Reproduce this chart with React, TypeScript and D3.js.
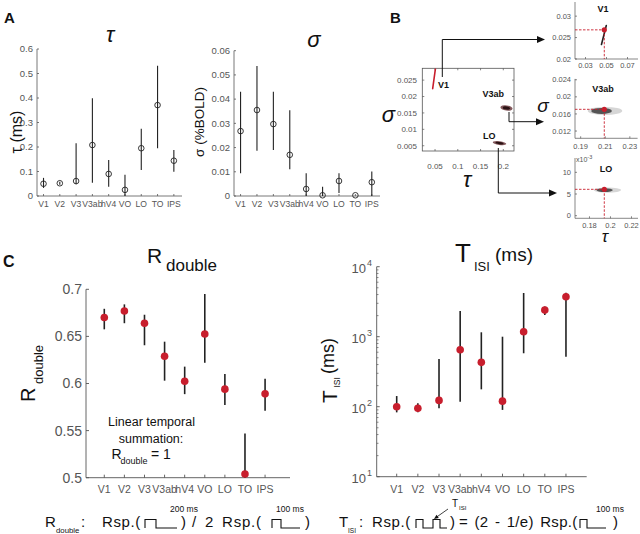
import React from 'react';
import * as d3 from 'd3';

// ---------- DATA ----------
const regions = ['V1', 'V2', 'V3', 'V3ab', 'hV4', 'VO', 'LO', 'TO', 'IPS'];

// Panel A: tau
const tauMean = [0.05, 0.052, 0.061, 0.208, 0.09, 0.025, 0.195, 0.371, 0.144];
const tauLo = [0.033, 0.046, 0.048, 0.054, 0.038, 0.0, 0.106, 0.195, 0.099];
const tauHi = [0.074, 0.058, 0.215, 0.399, 0.147, 0.087, 0.275, 0.532, 0.188];
const tauTicks = [0, 0.1, 0.2, 0.3, 0.4, 0.5, 0.6];

// Panel A: sigma
const sigmaMean = [0.0268, 0.0355, 0.0297, 0.017, 0.0029, 0.0003, 0.0062, 0.0003, 0.0057];
const sigmaLo = [0.0094, 0.0187, 0.019, 0.011, 0.0, 0.0, 0.0012, 0.0003, 0.0];
const sigmaHi = [0.043, 0.0537, 0.043, 0.0354, 0.0094, 0.0038, 0.0094, 0.0003, 0.0101];
const sigmaTicks = [0, 0.01, 0.02, 0.03, 0.04, 0.05, 0.06];

// Panel B main scatter
const bTauTicks = [0.05, 0.1, 0.15, 0.2];
const bSigmaTicks = [0.005, 0.01, 0.015, 0.02, 0.025];
const v1Streak = [[0.0448, 0.0224], [0.0508, 0.0284]];
const cloudNames = ['V3ab', 'LO'];
const cloudTau = [0.207, 0.1917];
const cloudSigma = [0.0165, 0.0058];
const cloudRTau = [0.0135, 0.015];
const cloudRSigma = [0.0008, 0.00055];

// Panel B insets
const insetNames = ['V1', 'V3ab', 'LO'];
const insetBestTau = [0.0479, 0.2092, 0.1941];
const insetBestSigma = [0.0268, 0.01708, 0.00608];
const insetTauTicks = [[0.03, 0.05, 0.07], [0.19, 0.21, 0.23], [0.18, 0.2, 0.22]];
const insetSigmaTicks = [[0.02, 0.025, 0.03], [0.012, 0.016, 0.02, 0.024], [0, 0.005, 0.01]];
const insetTickLabelsTau = [['0.03', '0.05', '0.07'], ['0.19', '0.21', '0.23'], ['0.18', '0.2', '0.22']];
const insetTickLabelsSigma = [['0.02', '0.025', '0.03'], ['0.012', '0.016', '0.02', '0.024'], ['0', '5', '10']];
const v1InsetStreak = [[0.0452, 0.0234], [0.0498, 0.0278]];
const insetCloudTau = [0, 0.2098, 0.197];
const insetCloudSigma = [0, 0.0167, 0.0059];
const insetCloudRTau = [0, 0.014, 0.013];
const insetCloudRSigma = [0, 0.00095, 0.0006];

// Panel C: R_double
const rMean = [0.67, 0.677, 0.664, 0.629, 0.6024, 0.6525, 0.594, 0.504, 0.589];
const rLo = [0.6575, 0.664, 0.6406, 0.603, 0.5887, 0.622, 0.5773, 0.49, 0.571];
const rHi = [0.6793, 0.684, 0.673, 0.6444, 0.6179, 0.695, 0.61, 0.547, 0.605];
const rTicks = [0.5, 0.55, 0.6, 0.65, 0.7];

// Panel C: T_ISI (ms)
const tMean = [100, 95, 123, 651, 430, 120, 1179, 2400, 3730];
const tLo = [83, 83, 95, 118, 177, 90, 580, 2040, 518];
const tHi = [142, 112, 480, 2330, 1156, 1000, 4210, 2700, 4250];
const tTicks = [10, 100, 1000, 10000];

// ---------- STYLE ----------
const font = "'Liberation Sans', Arial, Helvetica, sans-serif";
const axisC = '#555';
const labC = '#555';
const red = '#c81e2d';
const dark = '#222';

function DotPanel({ x0, x1, yTop, yMax, ticks, fmt, mean, lo, hi }: any) {
  const x = d3.scaleLinear().domain([0.6, 9.5]).range([x0, x1]);
  const y = d3.scaleLinear().domain([0, yMax]).range([196, yTop]);
  return (
    <g>
      <line x1={x0} y1={196} x2={x0} y2={yTop} stroke={axisC} strokeWidth={0.8} />
      <line x1={x0} y1={196} x2={x1} y2={196} stroke={axisC} strokeWidth={0.8} />
      {ticks.map((t: number) => (
        <g key={t}>
          <line x1={x0} x2={x0 + 2} y1={y(t)} y2={y(t)} stroke={axisC} strokeWidth={0.8} />
          <text x={x0 - 4} y={y(t)} dy="0.35em" textAnchor="end" fontSize={9.5} fill={labC}>{fmt(t)}</text>
        </g>
      ))}
      {regions.map((r, i) => (
        <g key={r}>
          <line x1={x(i + 1)} x2={x(i + 1)} y1={196} y2={194} stroke={axisC} strokeWidth={0.8} />
          <text x={x(i + 1)} y={207} textAnchor="middle" fontSize={8.6} fill={labC}>{r}</text>
        </g>
      ))}
      {regions.map((r, i) => (
        <line key={'e' + r} x1={x(i + 1)} x2={x(i + 1)} y1={y(lo[i])} y2={y(hi[i])} stroke={dark} strokeWidth={1.1} />
      ))}
      {regions.map((r, i) => (
        <circle key={'c' + r} cx={x(i + 1)} cy={y(mean[i])} r={2.8} fill="none" stroke={dark} strokeWidth={0.9} />
      ))}
    </g>
  );
}

function Arrow({ d, tip }: any) {
  const [tx, ty] = tip;
  const head = `M${tx},${ty} L${tx - 8},${ty - 3.5} L${tx - 8},${ty + 3.5} Z`;
  return (
    <g>
      <path d={d} fill="none" stroke="#111" strokeWidth={1} />
      <path d={head} fill="#111" />
    </g>
  );
}

const insetLayout = [
  { xd: [0.02, 0.08], xr: [575, 638], yd: [0.02, 0.0333], yr: [59, 2], xlabY: 68, titleY: 12, titleX: 603 },
  { xd: [0.1854, 0.2363], xr: [575, 637.6], yd: [0.0103, 0.0242], yr: [138.3, 78.9], xlabY: 148.5, titleY: 92, titleX: 603 },
  { xd: [0.1662, 0.2262], xr: [575, 638], yd: [-0.0006, 0.0133], yr: [218.3, 158], xlabY: 228, titleY: 172, titleX: 606 },
];

function Inset({ k }: any) {
  const L = insetLayout[k];
  const x = d3.scaleLinear().domain(L.xd).range(L.xr);
  const y = d3.scaleLinear().domain(L.yd).range(L.yr);
  const x0 = L.xr[0], y0 = L.yr[0];
  const bt = insetBestTau[k], bs = insetBestSigma[k];
  return (
    <g>
      <line x1={x0} y1={y0} x2={x0} y2={L.yr[1]} stroke={axisC} strokeWidth={0.7} />
      <line x1={x0} y1={y0} x2={L.xr[1]} y2={y0} stroke={axisC} strokeWidth={0.7} />
      {insetTauTicks[k].map((t, i) => (
        <g key={'xt' + i}>
          <line x1={x(t)} x2={x(t)} y1={y0} y2={y0 - 2} stroke={axisC} strokeWidth={0.7} />
          <text x={x(t)} y={L.xlabY} textAnchor="middle" fontSize={7.5} fill={labC}>{insetTickLabelsTau[k][i]}</text>
        </g>
      ))}
      {insetSigmaTicks[k].map((t, i) => (
        <g key={'yt' + i}>
          <line x1={x0} x2={x0 + 2} y1={y(t)} y2={y(t)} stroke={axisC} strokeWidth={0.7} />
          <text x={x0 - 4} y={y(t)} dy="0.35em" textAnchor="end" fontSize={7.5} fill={labC}>{insetTickLabelsSigma[k][i]}</text>
        </g>
      ))}
      {k === 0 ? (
        <line x1={x(v1InsetStreak[0][0])} y1={y(v1InsetStreak[0][1])} x2={x(v1InsetStreak[1][0])} y2={y(v1InsetStreak[1][1])} stroke="#222" strokeWidth={1.6} strokeLinecap="round" />
      ) : (
        <g>
          <ellipse cx={x(insetCloudTau[k])} cy={y(insetCloudSigma[k])} rx={x(insetCloudTau[k] + insetCloudRTau[k]) - x(insetCloudTau[k])} ry={y(insetCloudSigma[k]) - y(insetCloudSigma[k] + insetCloudRSigma[k])} fill="#999" opacity={0.4} />
          <ellipse cx={x(insetCloudTau[k] - insetCloudRTau[k] * 0.2)} cy={y(insetCloudSigma[k])} rx={(x(insetCloudTau[k] + insetCloudRTau[k]) - x(insetCloudTau[k])) * 0.6} ry={(y(insetCloudSigma[k]) - y(insetCloudSigma[k] + insetCloudRSigma[k])) * 0.75} fill="#333" opacity={0.8} />
        </g>
      )}
      <line x1={x0} x2={x(bt)} y1={y(bs)} y2={y(bs)} stroke={red} strokeWidth={0.9} strokeDasharray="2.5,1.5" />
      <line x1={x(bt)} x2={x(bt)} y1={y(bs)} y2={y0} stroke={red} strokeWidth={0.9} strokeDasharray="2.5,1.5" />
      <circle cx={x(bt)} cy={y(bs)} r={2.6} fill={red} />
      <text x={L.titleX} y={L.titleY} textAnchor="middle" fontSize={9} fontWeight="bold" fill="#111">{insetNames[k]}</text>
    </g>
  );
}

function PanelB() {
  const x = d3.scaleLinear().domain([0.022, 0.2235]).range([422.3, 514]);
  const y = d3.scaleLinear().domain([0.0034, 0.0286]).range([151, 68.3]);
  const fmt = (v: number) => String(+v.toFixed(3));
  return (
    <g>
      <defs>
        <clipPath id="bclip"><rect x={422.3} y={68.3} width={91.7} height={82.7} /></clipPath>
      </defs>
      <rect x={422.3} y={68.3} width={91.7} height={82.7} fill="none" stroke={axisC} strokeWidth={0.8} />
      {bTauTicks.map((t) => (
        <g key={'bx' + t}>
          <line x1={x(t)} x2={x(t)} y1={151} y2={149} stroke={axisC} strokeWidth={0.7} />
          <line x1={x(t)} x2={x(t)} y1={68.3} y2={70.3} stroke={axisC} strokeWidth={0.7} />
          <text x={x(t)} y={169} textAnchor="middle" fontSize={8} fill={labC}>{fmt(t)}</text>
        </g>
      ))}
      {bSigmaTicks.map((t) => (
        <g key={'by' + t}>
          <line x1={422.3} x2={424.3} y1={y(t)} y2={y(t)} stroke={axisC} strokeWidth={0.7} />
          <line x1={514} x2={512} y1={y(t)} y2={y(t)} stroke={axisC} strokeWidth={0.7} />
          <text x={417} y={y(t)} dy="0.35em" textAnchor="end" fontSize={8} fill={labC}>{fmt(t)}</text>
        </g>
      ))}
      <g clipPath="url(#bclip)">
        <line x1={x(v1Streak[0][0])} y1={y(v1Streak[0][1])} x2={x(v1Streak[1][0])} y2={y(v1Streak[1][1])} stroke={red} strokeWidth={1.6} strokeLinecap="round" />
        {cloudNames.map((n, i) => (
          <g key={n}>
            <ellipse cx={x(cloudTau[i])} cy={y(cloudSigma[i])} rx={x(cloudTau[i] + cloudRTau[i]) - x(cloudTau[i])} ry={y(cloudSigma[i]) - y(cloudSigma[i] + cloudRSigma[i])} fill="#5a2226" opacity={0.75} transform={`rotate(8 ${x(cloudTau[i])} ${y(cloudSigma[i])})`} />
            <ellipse cx={x(cloudTau[i])} cy={y(cloudSigma[i])} rx={(x(cloudTau[i] + cloudRTau[i]) - x(cloudTau[i])) * 0.6} ry={(y(cloudSigma[i]) - y(cloudSigma[i] + cloudRSigma[i])) * 0.6} fill="#2a1214" transform={`rotate(8 ${x(cloudTau[i])} ${y(cloudSigma[i])})`} />
          </g>
        ))}
      </g>
      <text x={438} y={88} fontSize={9} fontWeight="bold" fill="#111">V1</text>
      <text x={482.5} y={97} fontSize={9} fontWeight="bold" fill="#111">V3ab</text>
      <text x={483} y={138.5} fontSize={9} fontWeight="bold" fill="#111">LO</text>
      <text x={388.5} y={122} textAnchor="middle" fontSize={22} fontStyle="italic" fill="#111">σ</text>
      <text x={467} y={187} textAnchor="middle" fontSize={22} fontStyle="italic" fill="#111">τ</text>
      <Arrow d="M442.3,77 V39.5 H537" tip={[545, 39.5]} />
      <Arrow d="M509,112 V121.7 H536" tip={[544, 121.7]} />
      <Arrow d="M498.3,148 V193 H549" tip={[557, 193]} />
      {[0, 1, 2].map((k) => <Inset key={k} k={k} />)}
      <text x={543} y={112} textAnchor="middle" fontSize={19} fontStyle="italic" fill="#111">σ</text>
      <text x={605} y={242} textAnchor="middle" fontSize={17} fontStyle="italic" fill="#111">τ</text>
      <text x={576} y={162} fontSize={7} fill={labC}>x10<tspan dy={-3} fontSize={5.5}>-3</tspan></text>
    </g>
  );
}

function PanelCR() {
  const x = d3.scaleLinear().domain([0.09, 10.24]).range([86, 290]);
  const y = d3.scaleLinear().domain([0.5, 0.7]).range([477.7, 289.3]);
  const cl = (v: number) => Math.max(0.5, v);
  return (
    <g>
      <line x1={86} y1={477.7} x2={86} y2={289.3} stroke={axisC} strokeWidth={0.9} />
      <line x1={86} y1={477.7} x2={290} y2={477.7} stroke={axisC} strokeWidth={0.9} />
      {rTicks.map((t) => (
        <g key={t}>
          <line x1={86} x2={89} y1={y(t)} y2={y(t)} stroke={axisC} strokeWidth={0.9} />
          <text x={82} y={y(t)} dy="0.35em" textAnchor="end" fontSize={14} fill={labC}>{String(t)}</text>
        </g>
      ))}
      {regions.map((r, i) => (
        <g key={r}>
          <line x1={x(i + 1)} x2={x(i + 1)} y1={477.7} y2={474.7} stroke={axisC} strokeWidth={0.9} />
          <text x={x(i + 1)} y={493} textAnchor="middle" fontSize={10.5} fill={labC}>{r}</text>
        </g>
      ))}
      {regions.map((r, i) => (
        <line key={'e' + r} x1={x(i + 1)} x2={x(i + 1)} y1={y(cl(rLo[i]))} y2={y(rHi[i])} stroke={dark} strokeWidth={1.6} />
      ))}
      {regions.map((r, i) => (
        <circle key={'c' + r} cx={x(i + 1)} cy={y(rMean[i])} r={3.8} fill={red} />
      ))}
      <text x={147} y={263} fontSize={21} fill="#111">R</text>
      <text x={166} y={271} fontSize={17} fill="#111">double</text>
      <text transform="translate(35,402) rotate(-90)" fontSize={20} fill="#111">R</text>
      <text transform="translate(43,384) rotate(-90)" fontSize={13} fill="#111">double</text>
      <text x={151.5} y={426} textAnchor="middle" fontSize={12.5} fill="#111">Linear temporal</text>
      <text x={151} y={442.5} textAnchor="middle" fontSize={12.5} fill="#111">summation:</text>
      <text x={111.5} y={459} fontSize={14} fill="#111">R</text>
      <text x={120.5} y={464} fontSize={9} fill="#111">double</text>
      <text x={151} y={459} fontSize={14} fill="#111">= 1</text>
    </g>
  );
}

function PanelCT() {
  const x = d3.scaleLinear().domain([0.055, 9.98]).range([376.7, 586.7]);
  const y = d3.scaleLog().domain([10, 10000]).range([476.7, 266.7]);
  const minor: number[] = [];
  [10, 100, 1000].forEach((d) => { for (let m = 2; m <= 9; m++) minor.push(d * m); });
  return (
    <g>
      <line x1={376.7} y1={476.7} x2={376.7} y2={266.7} stroke={axisC} strokeWidth={0.9} />
      <line x1={376.7} y1={476.7} x2={586.7} y2={476.7} stroke={axisC} strokeWidth={0.9} />
      {minor.map((t) => (
        <line key={'m' + t} x1={376.7} x2={378.5} y1={y(t)} y2={y(t)} stroke={axisC} strokeWidth={0.7} />
      ))}
      {tTicks.map((t) => (
        <g key={t}>
          <line x1={376.7} x2={379.7} y1={y(t)} y2={y(t)} stroke={axisC} strokeWidth={0.9} />
          <text x={366} y={y(t) + 6} textAnchor="end" fontSize={13} fill={labC}>10</text>
          <text x={367} y={y(t) - 1} fontSize={9} fill={labC}>{Math.round(Math.log10(t))}</text>
        </g>
      ))}
      {regions.map((r, i) => (
        <g key={r}>
          <line x1={x(i + 1)} x2={x(i + 1)} y1={476.7} y2={473.7} stroke={axisC} strokeWidth={0.9} />
          <text x={x(i + 1)} y={493} textAnchor="middle" fontSize={10.5} fill={labC}>{r}</text>
        </g>
      ))}
      {regions.map((r, i) => (
        <line key={'e' + r} x1={x(i + 1)} x2={x(i + 1)} y1={y(tLo[i])} y2={y(tHi[i])} stroke={dark} strokeWidth={1.6} />
      ))}
      {regions.map((r, i) => (
        <circle key={'c' + r} cx={x(i + 1)} cy={y(tMean[i])} r={3.8} fill={red} />
      ))}
      <text x={455} y={262} fontSize={26} fill="#111">T</text>
      <text x={474} y={270.5} fontSize={13} fill="#111">ISI</text>
      <text x={495} y={261} fontSize={19} fill="#111">(ms)</text>
      <text transform="translate(337,403) rotate(-90)" fontSize={21} fill="#111">T</text>
      <text transform="translate(339.5,387.5) rotate(-90)" fontSize={8.5} fill="#111">ISI</text>
      <text transform="translate(334,374) rotate(-90)" fontSize={18} fill="#111">(ms)</text>
    </g>
  );
}

function Pulse({ pts }: any) {
  return <path d={pts} fill="none" stroke="#111" strokeWidth={1.1} />;
}

function Formulas() {
  const bl = 527;
  const top = 519.5, bot = 528;
  const fs = 15;
  return (
    <g fill="#111">
      <text x={45} y={bl} fontSize={fs}>R</text>
      <text x={56} y={533} fontSize={7.8}>double</text>
      <text x={81} y={bl} fontSize={fs}>:</text>
      <text x={102} y={bl} fontSize={fs} letterSpacing={0.6}>Rsp.(</text>
      <Pulse pts={`M145,${bot} V${top} H156 V${bot} H177`} />
      <text x={181} y={bl} fontSize={fs}>)</text>
      <text x={192} y={bl} fontSize={fs} letterSpacing={0.8} wordSpacing={3}>/ 2 Rsp.(</text>
      <Pulse pts={`M272,${bot} V${top} H281 V${bot} H300`} />
      <text x={305} y={bl} fontSize={fs}>)</text>
      <text x={184} y={512} fontSize={8.5} textAnchor="middle">200 ms</text>
      <text x={290} y={512} fontSize={8.5} textAnchor="middle">100 ms</text>

      <text x={339} y={bl} fontSize={fs}>T</text>
      <text x={348} y={533} fontSize={6.5}>ISI</text>
      <text x={359} y={bl} fontSize={fs}>:</text>
      <text x={372} y={bl} fontSize={fs} letterSpacing={0.6}>Rsp.(</text>
      <Pulse pts={`M416,${bot} V${top} H423 V${bot} H433 V${top} H440 V${bot} H447`} />
      <text x={450} y={bl} fontSize={fs}>)</text>
      <text x={459} y={bl} fontSize={fs} letterSpacing={0.3} wordSpacing={2}>= (2 - 1/e) Rsp.(</text>
      <Pulse pts={`M580,${bot} V${top} H587 V${bot} H606`} />
      <text x={613} y={bl} fontSize={fs}>)</text>
      <text x={610} y={512} fontSize={8.5} textAnchor="middle">100 ms</text>
      <text x={452} y={507} fontSize={10}>T</text>
      <text x={459} y={510} fontSize={6}>ISI</text>
      <line x1={448} y1={509} x2={436} y2={517.5} stroke="#111" strokeWidth={0.8} />
      <path d="M434,519 L436.5,514.8 L438.8,518 Z" fill="#111" />
    </g>
  );
}

export default function App() {
  const f1 = (v: number) => String(+v.toFixed(2));
  const f2 = (v: number) => String(+v.toFixed(3));
  return (
    <svg width={640} height={534} style={{ position: 'absolute', left: 0, top: 0 }} fontFamily={font}>
      <rect width={640} height={534} fill="#fff" />
      <text x={4} y={23} fontSize={15} fontWeight="bold" fill="#111">A</text>
      <text x={390} y={23} fontSize={15} fontWeight="bold" fill="#111">B</text>
      <text x={3} y={267} fontSize={16} fontWeight="bold" fill="#111">C</text>

      <text x={110} y={42} textAnchor="middle" fontSize={22} fontStyle="italic" fill="#111">τ</text>
      <text transform="translate(22,132) rotate(-90)" textAnchor="middle" fontSize={16} fill="#111">τ (ms)</text>
      <DotPanel x0={37} x1={182} yTop={49} yMax={0.6} ticks={tauTicks} fmt={f1} mean={tauMean} lo={tauLo} hi={tauHi} />

      <text x={314} y={47} textAnchor="middle" fontSize={22} fontStyle="italic" fill="#111">σ</text>
      <text transform="translate(204,122) rotate(-90)" textAnchor="middle" fontSize={13.5} fill="#111">σ (%BOLD)</text>
      <DotPanel x0={234} x1={380} yTop={50.7} yMax={0.06} ticks={sigmaTicks} fmt={f2} mean={sigmaMean} lo={sigmaLo} hi={sigmaHi} />

      <PanelB />
      <PanelCR />
      <PanelCT />
      <Formulas />
    </svg>
  );
}
